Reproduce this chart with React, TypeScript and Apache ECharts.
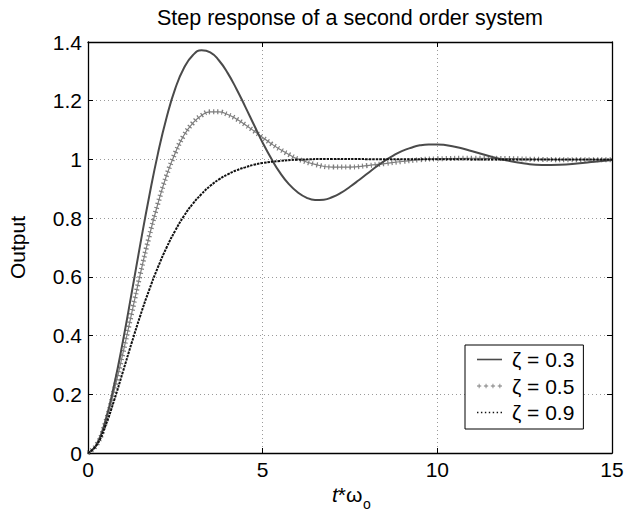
import React, { useEffect, useRef } from "react";
import * as echarts from "echarts";

const FONT = '"Liberation Sans", Arial, Helvetica, sans-serif';

const titleText = "Step response of a second order system";
const yAxisName = "Output";
const legendNames = ["ζ = 0.3", "ζ = 0.5", "ζ = 0.9"];
const xTicks = { min: 0, max: 15, interval: 5 };
const yTicks = { min: 0, max: 1.4, interval: 0.2 };

// zeta = 0.3
const t03 = [0, 0.25, 0.5, 0.75, 1, 1.25, 1.5, 1.75, 2, 2.25, 2.5, 2.75, 3, 3.25, 3.5, 3.75, 4, 4.25, 4.5, 4.75, 5, 5.25, 5.5, 5.75, 6, 6.25, 6.5, 6.75, 7, 7.25, 7.5, 7.75, 8, 8.25, 8.5, 8.75, 9, 9.25, 9.5, 9.75, 10, 10.5, 11, 11.5, 12, 12.5, 13, 13.5, 14, 14.5, 15];
const y03 = [0, 0.030, 0.111, 0.233, 0.381, 0.545, 0.713, 0.873, 1.019, 1.143, 1.242, 1.312, 1.355, 1.372, 1.365, 1.337, 1.294, 1.240, 1.180, 1.118, 1.057, 1.002, 0.954, 0.916, 0.888, 0.870, 0.862, 0.863, 0.872, 0.887, 0.907, 0.929, 0.952, 0.975, 0.996, 1.014, 1.029, 1.040, 1.048, 1.051, 1.051, 1.043, 1.028, 1.011, 0.996, 0.986, 0.981, 0.982, 0.986, 0.992, 0.998];

// zeta = 0.5
const t05 = [0, 0.25, 0.5, 0.75, 1, 1.25, 1.5, 1.75, 2, 2.25, 2.5, 2.75, 3, 3.25, 3.5, 3.75, 4, 4.25, 4.5, 4.75, 5, 5.25, 5.5, 5.75, 6, 6.5, 7, 7.5, 8, 8.5, 9, 9.5, 10, 11, 12, 13, 14, 15];
const y05 = [0, 0.029, 0.104, 0.213, 0.340, 0.476, 0.611, 0.737, 0.849, 0.946, 1.023, 1.083, 1.124, 1.150, 1.162, 1.162, 1.153, 1.138, 1.118, 1.097, 1.075, 1.053, 1.034, 1.017, 1.002, 0.983, 0.974, 0.974, 0.979, 0.986, 0.993, 0.999, 1.002, 1.004, 1.003, 1.000, 0.999, 0.999];

// zeta = 0.9
const t09 = [0, 0.25, 0.5, 0.75, 1, 1.25, 1.5, 1.75, 2, 2.25, 2.5, 2.75, 3, 3.25, 3.5, 3.75, 4, 4.25, 4.5, 4.75, 5, 5.5, 6, 7, 8, 10, 12, 15];
const y09 = [0, 0.027, 0.093, 0.180, 0.277, 0.375, 0.469, 0.555, 0.632, 0.700, 0.758, 0.808, 0.849, 0.882, 0.910, 0.932, 0.949, 0.963, 0.973, 0.982, 0.988, 0.995, 0.999, 1.0015, 1.001, 1.0005, 1.000, 1.000];

const pairs = (t: number[], y: number[]) => t.map((v, i) => [v, y[i]]);

const C03 = "#4a4a4a";
const C05 = "#7d7d7d";
const C09 = "#111111";

function plusIcon(): string {
  const centers = [2, 8.5, 15, 21.5];
  let d = "";
  for (const c of centers) {
    d += `M${c - 2},1.6H${c + 2}V2.4H${c - 2}Z`;
    d += `M${c - 0.4},0H${c + 0.4}V4H${c - 0.4}Z`;
  }
  return "path://" + d;
}
function dotIcon(): string {
  let d = "";
  for (let k = 0; k < 7; k++) {
    const x = k * 3.6;
    d += `M${x},0H${x + 1.3}V1.3H${x}Z`;
  }
  return "path://" + d;
}
const solidIcon = "path://M0,0H25V1.6H0Z";

export default function App() {
  const ref = useRef<HTMLDivElement>(null);
  useEffect(() => {
    const chart = echarts.init(ref.current!, null, { renderer: "svg" });
    const axisLineStyle = { color: "#000", width: 1.3 };
    const option: any = {
      animation: false,
      backgroundColor: "#fff",
      textStyle: { fontFamily: FONT },
      title: {
        text: titleText,
        left: 350,
        top: 7,
        padding: 0,
        textAlign: "center",
        textStyle: { fontSize: 21.5, fontWeight: "normal", color: "#000", fontFamily: FONT },
      },
      grid: { left: 88, right: 14, top: 42, bottom: 58, containLabel: false, outerBoundsMode: "none" },
      legend: {
        data: [
          { name: legendNames[0], icon: solidIcon },
          { name: legendNames[1], icon: plusIcon() },
          { name: legendNames[2], icon: dotIcon() },
        ],
        orient: "vertical",
        left: 465,
        top: 345,
        padding: [4, 9, 6, 12],
        itemWidth: 25,
        itemHeight: 10,
        itemGap: 5.5,
        borderColor: "#000",
        borderWidth: 1,
        borderRadius: 0,
        backgroundColor: "#fff",
        selectedMode: false,
        itemStyle: { borderWidth: 0 },
        textStyle: { fontSize: 21, color: "#000", fontFamily: FONT, lineHeight: 21, padding: [0, 0, 0, 5] },
      },
      xAxis: [
        {
          type: "value",
          ...xTicks,
          position: "bottom",
          axisLine: { show: true, onZero: false, lineStyle: axisLineStyle },
          axisTick: { show: true, inside: true, length: 5, lineStyle: { color: "#000" } },
          axisLabel: { fontSize: 21, color: "#000", margin: 6, fontFamily: FONT },
          splitLine: { show: true, lineStyle: { color: "#9a9a9a", type: [1, 3], width: 1 } },
        },
        {
          type: "value",
          ...xTicks,
          position: "top",
          axisLine: { show: true, onZero: false, lineStyle: axisLineStyle },
          axisTick: { show: true, inside: true, length: 5, lineStyle: { color: "#000" } },
          axisLabel: { show: false },
          splitLine: { show: false },
        },
      ],
      yAxis: [
        {
          type: "value",
          ...yTicks,
          position: "left",
          name: yAxisName,
          nameLocation: "middle",
          nameGap: 60,
          nameTextStyle: { fontSize: 21, color: "#000", fontFamily: FONT },
          axisLine: { show: true, onZero: false, lineStyle: axisLineStyle },
          axisTick: { show: true, inside: true, length: 5, lineStyle: { color: "#000" } },
          axisLabel: {
            fontSize: 21,
            color: "#000",
            margin: 6,
            fontFamily: FONT,
            formatter: (v: number) => String(Math.round(v * 10) / 10),
          },
          splitLine: { show: true, lineStyle: { color: "#9a9a9a", type: [1, 3], width: 1 } },
        },
        {
          type: "value",
          ...yTicks,
          position: "right",
          axisLine: { show: true, onZero: false, lineStyle: axisLineStyle },
          axisTick: { show: true, inside: true, length: 5, lineStyle: { color: "#000" } },
          axisLabel: { show: false },
          splitLine: { show: false },
        },
      ],
      graphic: [
        {
          type: "text",
          x: 332,
          y: 505,
          style: {
            text: "{i|t}*ω",
            rich: { i: { fontStyle: "italic", fontSize: 21, fontFamily: FONT, fill: "#000" } },
            fontSize: 21,
            fontFamily: FONT,
            fill: "#000",
            verticalAlign: "bottom",
          },
        },
        {
          type: "text",
          x: 363,
          y: 511,
          style: { text: "o", fontSize: 14, fontFamily: FONT, fill: "#000", verticalAlign: "bottom" },
        },
      ],
      series: [
        {
          name: legendNames[0],
          type: "line",
          data: pairs(t03, y03),
          smooth: true,
          showSymbol: false,
          color: C03,
          lineStyle: { color: C03, width: 2 },
          z: 3,
        },
        {
          name: legendNames[1],
          type: "line",
          data: pairs(t05, y05),
          smooth: true,
          showSymbol: false,
          color: C05,
          lineStyle: { color: C05, width: 5, type: [1.2, 3] },
          z: 2,
        },
        {
          name: legendNames[1],
          type: "line",
          data: pairs(t05, y05),
          smooth: true,
          showSymbol: false,
          color: C05,
          lineStyle: { color: C05, width: 1.2 },
          z: 2,
        },
        {
          name: legendNames[2],
          type: "line",
          data: pairs(t09, y09),
          smooth: true,
          showSymbol: false,
          color: C09,
          lineStyle: { color: C09, width: 2, type: [2.5, 1] },
          z: 4,
        },
      ],
    };
    chart.setOption(option);
    return () => chart.dispose();
  }, []);
  return <div ref={ref} style={{ position: "absolute", left: 0, top: 0, width: 626, height: 511 }} />;
}
